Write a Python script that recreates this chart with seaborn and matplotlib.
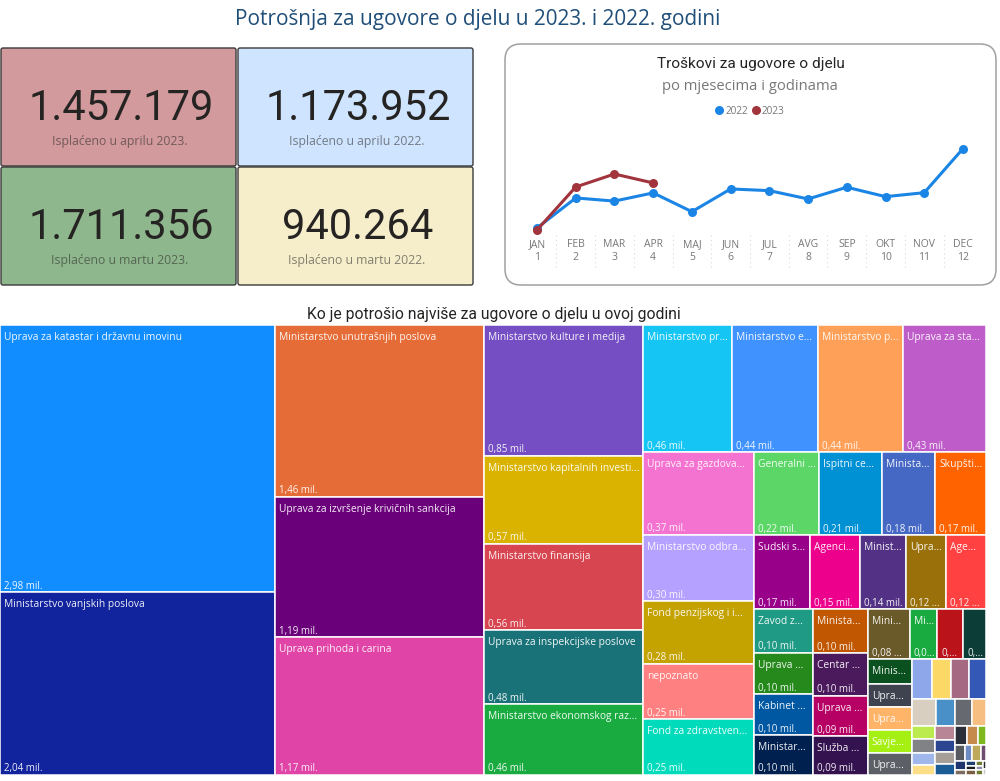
# Potrosnja za ugovore o djelu - KPI cards, monthly line chart and treemap

import pandas as pd
import seaborn as sns
import matplotlib.pyplot as plt
from matplotlib.patches import FancyBboxPatch, Rectangle
from matplotlib.lines import Line2D

# KPI cards
kpi_values = ['1.457.179', '1.173.952', '1.711.356', '940.264']
kpi_labels = ['Isplaćeno u aprilu 2023.', 'Isplaćeno u aprilu 2022.',
              'Isplaćeno u martu 2023.', 'Isplaćeno u martu 2022.']

# Monthly spending
months = ['JAN', 'FEB', 'MAR', 'APR', 'MAJ', 'JUN', 'JUL', 'AVG', 'SEP', 'OKT', 'NOV', 'DEC']
month_numbers = [1, 2, 3, 4, 5, 6, 7, 8, 9, 10, 11, 12]
spend_2022 = [175000, 1030000, 940264, 1173952, 639000, 1286000, 1238000, 1001000, 1335000, 1067000, 1180000, 2435000]
spend_2023 = [118000, 1343000, 1711356, 1457179]

# Treemap, in the order the layout consumes them
names = ['Uprava za katastar i državnu imovinu', 'Ministarstvo vanjskih poslova',
         'Ministarstvo unutrašnjih poslova', 'Uprava za izvršenje krivičnih sankcija', 'Uprava prihoda i carina',
         'Ministarstvo kulture i medija', 'Ministarstvo kapitalnih investi...', 'Ministarstvo finansija',
         'Uprava za inspekcijske poslove', 'Ministarstvo ekonomskog raz...',
         'Ministarstvo pr...', 'Ministarstvo e...', 'Ministarstvo p...', 'Uprava za sta...',
         'Uprava za gazdova...', 'Ministarstvo odbra...', 'Fond penzijskog i i...', 'nepoznato', 'Fond za zdravstven...',
         'Generalni ...', 'Ispitni ce...', 'Minista...', 'Skupšti...',
         'Sudski s...', 'Agenci...', 'Minist...', 'Upra...', 'Age...',
         'Zavod z...', 'Uprava ...', 'Kabinet ...', 'Ministar...',
         'Minista...', 'Centar ...', 'Uprava ...', 'Služba ...',
         'Mini...', 'Mi...', '', '',
         'Minis...', 'Upra...', 'Upra...', 'Savje...', 'Upra...']
values = [2.98, 2.04,
          1.46, 1.19, 1.17,
          0.85, 0.57, 0.56, 0.48, 0.46,
          0.46, 0.44, 0.44, 0.43,
          0.37, 0.30, 0.28, 0.25, 0.25,
          0.22, 0.21, 0.18, 0.17,
          0.17, 0.15, 0.14, 0.12, 0.12,
          0.104, 0.100, 0.098, 0.096,
          0.097, 0.095, 0.090, 0.086,
          0.084, 0.056, 0.052, 0.046,
          0.044, 0.041, 0.041, 0.041, 0.039]
value_labels = ['2,98 mil.', '2,04 mil.',
                '1,46 mil.', '1,19 mil.', '1,17 mil.',
                '0,85 mil.', '0,57 mil.', '0,56 mil.', '0,48 mil.', '0,46 mil.',
                '0,46 mil.', '0,44 mil.', '0,44 mil.', '0,43 mil.',
                '0,37 mil.', '0,30 mil.', '0,28 mil.', '0,25 mil.', '0,25 mil.',
                '0,22 mil.', '0,21 mil.', '0,18 mil.', '0,17 mil.',
                '0,17 mil.', '0,15 mil.', '0,14 mil.', '0,12 ...', '0,12 ...',
                '0,10 mil.', '0,10 mil.', '0,10 mil.', '0,10 mil.',
                '0,10 mil.', '0,10 mil.', '0,09 mil.', '0,09 mil.',
                '0,08 ...', '0,0...', '0,...', '0,...',
                '', '', '', '', '']
# unnamed small cells in the bottom right corner
small_values = [0.033, 0.031, 0.029, 0.027,
                0.027, 0.021, 0.019, 0.016,
                0.0125, 0.0135, 0.0110, 0.0096,
                0.0106, 0.0094, 0.0102, 0.0083,
                0.0095, 0.0082, 0.0058,
                0.0065, 0.0050, 0.0054, 0.0036,
                0.0040, 0.0023, 0.0020, 0.0020, 0.0020, 0.0012, 0.0012, 0.0012, 0.0012, 0.0008]

colors = ['#118DFF', '#12239E', '#E66C37', '#6B007B', '#E044A7',
          '#744EC2', '#D9B300', '#D64550', '#197278', '#1AAB40',
          '#15C6F4', '#4092FF', '#FFA058', '#BE5DC9',
          '#F472D0', '#B5A1FF', '#C4A200', '#FF8080', '#00DBBC',
          '#5BD667', '#0091D5', '#4668C5', '#FF6300',
          '#99008A', '#EC008C', '#533285', '#99700A', '#FF4141',
          '#1F9A85', '#25891C', '#0057A2', '#002050',
          '#C15700', '#4B1A5C', '#B60064', '#34124F',
          '#6A5A29', '#1AAB40', '#BA141A', '#0C3D37',
          '#0B511F', '#3F4350', '#FFB468', '#A5EF13', '#5C6066']
small_colors = ['#8EA7EA', '#FCD966', '#A56A82', '#3358B6',
                '#D8CFC0', '#4A90C8', '#666A70', '#F6BE80',
                '#BCEB4E', '#808285', '#A0B7EC', '#FCDD88',
                '#B88596', '#2C4590', '#A59F98', '#1C5C96',
                '#2A2E38', '#C58A4C', '#7DB820',
                '#575A5E', '#6E8BC2', '#BEA95A', '#6E4C6E',
                '#1E3570', '#7A6A60', '#1B3F70', '#1A1A20', '#7A6040',
                '#6E7A30', '#8A90A8', '#6E7A30', '#2A2A2A', '#C8C8D0', '#707070']

# how the cells are stacked: 'h' side by side, 'v' on top of each other, a number = that many cells
small_tree = ('v', [('h', 4), ('h', 4),
                    ('h', [('v', 4), ('v', 4),
                           ('v', [('h', 3), ('h', 4),
                                  ('h', [('v', 2), ('v', 3), ('v', 3), ('v', 2)])])])])
tree = ('h', [('v', 2), ('v', 3), ('v', 5),
              ('v', [('h', 4),
                     ('h', [('v', 5),
                            ('v', [('h', 4), ('h', 5),
                                   ('h', [('v', 4), ('v', 4),
                                          ('v', [('h', 4),
                                                 ('h', [('v', 5), small_tree])])])])])])])

all_values = values + small_values
all_colors = colors + small_colors
all_names = names + [''] * len(small_values)
all_value_labels = value_labels + [''] * len(small_values)


def build(node, pos):
    # returns (total, node with totals, next leaf index)
    direction, children = node
    if isinstance(children, int):
        kids = [(all_values[i], i) for i in range(pos, pos + children)]
        pos += children
    else:
        kids = []
        for child in children:
            total, built, pos = build(child, pos)
            kids.append((total, built))
    return sum(k[0] for k in kids), (direction, kids), pos


def place(node, x, y, w, h, out):
    direction, kids = node
    total = sum(k[0] for k in kids)
    for size, kid in kids:
        share = size / total
        cw, ch = (w * share, h) if direction == 'h' else (w, h * share)
        if isinstance(kid, int):
            out.append((kid, x, y, cw, ch))
        else:
            place(kid, x, y, cw, ch, out)
        if direction == 'h':
            x += cw
        else:
            y += ch


sns.set_theme(style='white')
plt.rcParams['font.family'] = ['Open Sans', 'DejaVu Sans']

fig = plt.figure(figsize=(10, 7.81), dpi=100)
PX_W, PX_H = 1000, 781


def px_axes(x0, y0, x1, y1):
    return fig.add_axes([x0 / PX_W, 1 - y1 / PX_H, (x1 - x0) / PX_W, (y1 - y0) / PX_H])


# page level layer for cards and titles, in pixels
page = fig.add_axes([0, 0, 1, 1])
page.set_xlim(0, PX_W)
page.set_ylim(PX_H, 0)
page.axis('off')

page.text(478, 19, 'Potrošnja za ugovore o djelu u 2023. i 2022. godini', ha='center', va='center',
          fontsize=14.95, color='#1F4E79')

card_boxes = [(1, 48), (238, 48), (1, 167), (238, 167)]
card_colors = ['#D29A9C', '#CFE4FE', '#8FB78D', '#F6EECB']
for (cx, cy), col, val, lab in zip(card_boxes, card_colors, kpi_values, kpi_labels):
    page.add_patch(FancyBboxPatch((cx + 1, cy + 1), 233, 116, boxstyle='round,pad=1,rounding_size=2',
                                  fc=col, ec='#3a3a3a', lw=1.0))
    page.text(cx + 120, cy + 56, val, ha='center', va='center_baseline', fontsize=30, color='#252423',
              family=['Roboto', 'DejaVu Sans'])
    page.text(cx + 119, cy + 93.5, lab, ha='center', va='center', fontsize=8.8, color='#252423', alpha=0.55)

page.add_patch(FancyBboxPatch((520, 59), 461, 211, boxstyle='round,pad=15,rounding_size=16',
                              fc='white', ec='#a0a0a0', lw=1.1))
page.text(750.5, 64, 'Troškovi za ugovore o djelu', ha='center', va='center', fontsize=11.1, color='#252423',
          family=['Roboto', 'DejaVu Sans'])
page.text(750, 87, 'po mjesecima i godinama', ha='center', va='center', fontsize=10.6, color='#777777')

page.text(493.5, 314, 'Ko je potrošio najviše za ugovore o djelu u ovoj godini', ha='center', va='center',
          fontsize=11.3, color='#252423', family=['Roboto', 'DejaVu Sans'])

# line chart
ax = px_axes(537, 140, 963, 235)
ax.patch.set_alpha(0)
line_2022 = pd.DataFrame({'month': month_numbers, 'spend': spend_2022})
line_2023 = pd.DataFrame({'month': month_numbers[:len(spend_2023)], 'spend': spend_2023})
sns.lineplot(data=line_2022, x='month', y='spend', ax=ax, color='#1B85E5', lw=2.2, marker='o', ms=6.5, mew=0,
             clip_on=False)
sns.lineplot(data=line_2023, x='month', y='spend', ax=ax, color='#A1343C', lw=2.2, marker='o', ms=6.5, mew=0,
             clip_on=False)
ax.set_xlim(1, 12)
ax.set_ylim(-25000, 2680000)
ax.set_yticks([])
ax.set_xlabel('')
ax.set_ylabel('')
ax.set_xticks(month_numbers)
ax.set_xticklabels([f'{m}\n{n}' for m, n in zip(months, month_numbers)], fontsize=7.5, color='#777777',
                   linespacing=1.25)
ax.tick_params(axis='x', length=0, pad=3)
sns.despine(ax=ax, left=True, bottom=True)
# dotted month separators
for k in month_numbers[:-1]:
    ax.plot([k + 0.5, k + 0.5], [0, -0.36], transform=ax.get_xaxis_transform(), clip_on=False,
            color='#d8d8d8', lw=0.8, ls=(0, (1, 3)))

handles = [Line2D([], [], color='#1B85E5', marker='o', ms=6.5, mew=0, ls=''),
           Line2D([], [], color='#A1343C', marker='o', ms=6.5, mew=0, ls='')]
fig.legend(handles, ['2022', '2023'], loc='center', bbox_to_anchor=(749 / PX_W, 1 - 111 / PX_H), ncol=2,
           frameon=False, fontsize=7.2, labelcolor='#777777', handletextpad=0.0, columnspacing=0.2, handlelength=1.2)

# treemap
tm = px_axes(0, 325, 986, 775)
tm.set_xlim(0, 1)
tm.set_ylim(1, 0)
tm.axis('off')
_, built_tree, _ = build(tree, 0)
cells = []
place(built_tree, 0, 0, 1, 1, cells)
for i, x, y, w, h in cells:
    tm.add_patch(Rectangle((x, y), w, h, fc=all_colors[i], ec='white', lw=1.1))
    if all_names[i]:
        tm.annotate(all_names[i], (x, y), xytext=(4, -12.5), textcoords='offset pixels', fontsize=7.4,
                    color='white', alpha=0.93, va='center', ha='left')
    if all_value_labels[i]:
        tm.annotate(all_value_labels[i], (x, y + h), xytext=(4, 6), textcoords='offset pixels', fontsize=7,
                    color='white', alpha=0.93, va='center', ha='left')

plt.savefig('out.png', dpi=100)
